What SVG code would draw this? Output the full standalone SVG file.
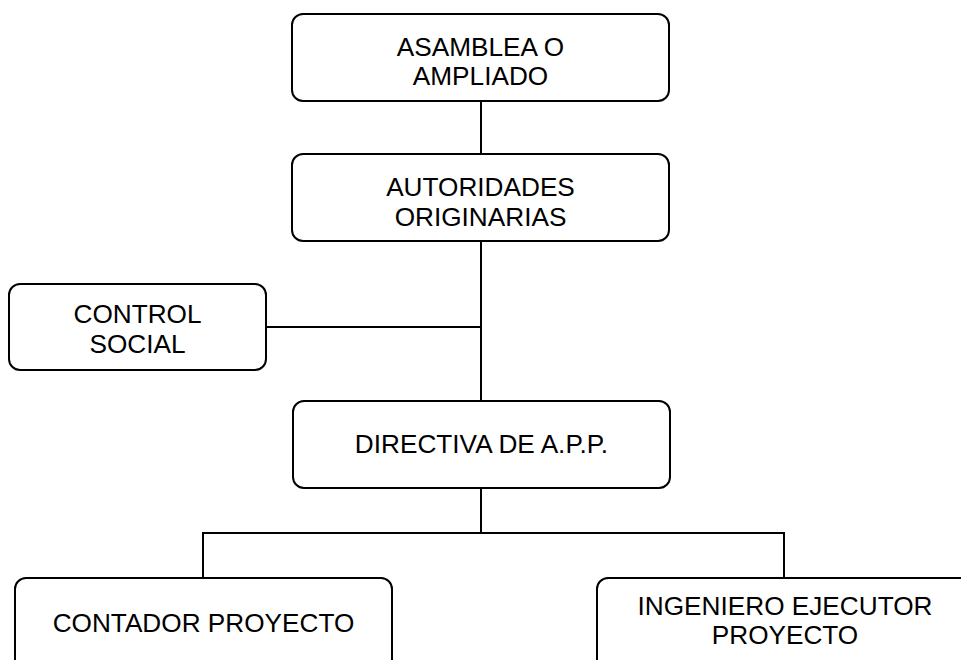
<svg xmlns="http://www.w3.org/2000/svg" width="961" height="660" viewBox="0 0 961 660">
<style>
.box{fill:#fff;stroke:#000;stroke-width:2}
.lbl{font-family:"Liberation Sans",Arial,sans-serif;font-size:26.2px;fill:#000;text-anchor:middle}
.con{stroke:#000;stroke-width:2;fill:none}
</style>
<rect width="961" height="660" fill="#fff"/>
<g id="connectors">
<line class="con" x1="481" y1="101" x2="481" y2="154"/>
<line class="con" x1="481" y1="241" x2="481" y2="401"/>
<line class="con" x1="266" y1="327" x2="481" y2="327"/>
<line class="con" x1="481" y1="488" x2="481" y2="533"/>
<polyline class="con" points="203,578 203,533 784,533 784,578"/>
</g>
<g id="asamblea">
<rect class="box" x="292" y="14" width="377" height="87" rx="11"/>
<text class="lbl" x="480.5" y="55.5">ASAMBLEA O</text>
<text class="lbl" x="480.5" y="85">AMPLIADO</text>
</g>
<g id="autoridades">
<rect class="box" x="292" y="154" width="377" height="87" rx="11"/>
<text class="lbl" x="480.5" y="196">AUTORIDADES</text>
<text class="lbl" x="480.5" y="225.5">ORIGINARIAS</text>
</g>
<g id="control">
<rect class="box" x="9" y="284" width="257" height="86" rx="11"/>
<text class="lbl" x="137.5" y="323">CONTROL</text>
<text class="lbl" x="137.5" y="352.5">SOCIAL</text>
</g>
<g id="directiva">
<rect class="box" x="293" y="401" width="377" height="87" rx="11"/>
<text class="lbl" x="481.5" y="453">DIRECTIVA DE A.P.P.</text>
</g>
<g id="contador">
<rect class="box" x="15" y="578" width="377" height="100" rx="11"/>
<text class="lbl" x="203.5" y="632">CONTADOR PROYECTO</text>
</g>
<g id="ingeniero">
<rect class="box" x="597" y="578" width="377" height="100" rx="11"/>
<text class="lbl" x="785" y="614.5">INGENIERO EJECUTOR</text>
<text class="lbl" x="785" y="644">PROYECTO</text>
</g>
</svg>
